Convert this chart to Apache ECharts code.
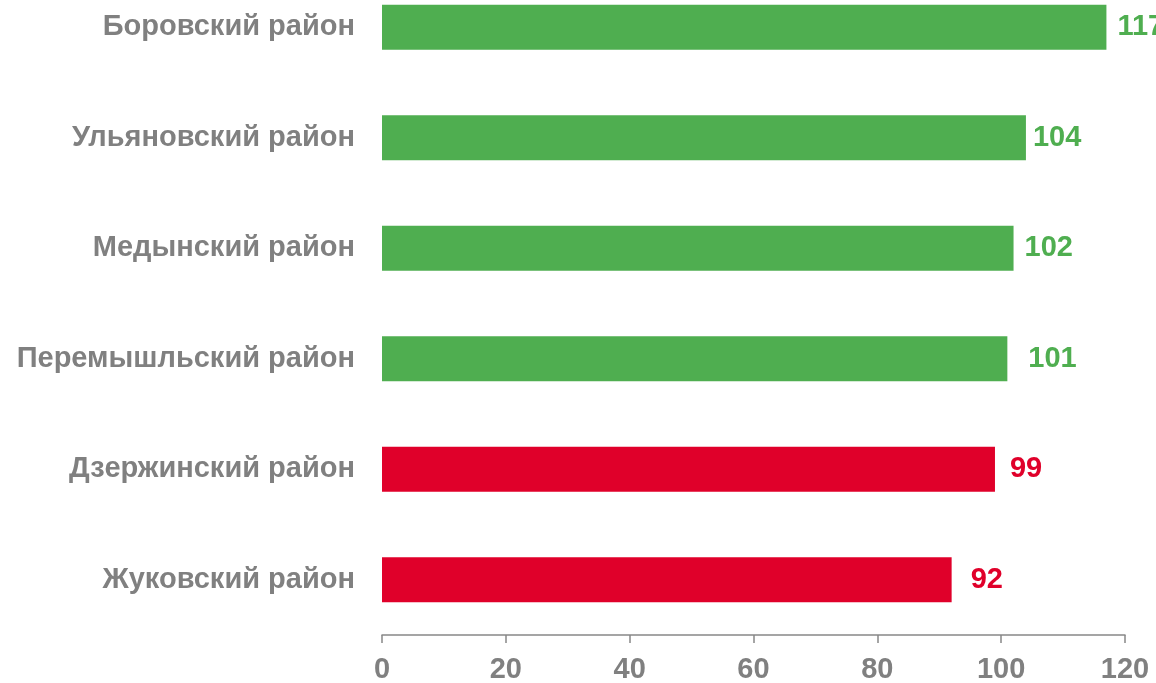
<!DOCTYPE html>
<html>
<head>
<meta charset="utf-8">
<script src="https://cdn.jsdelivr.net/npm/echarts@6/dist/echarts.min.js"></script>
<style>
html,body{margin:0;padding:0;background:#fff;}
#chart{width:1156px;height:683px;}
</style>
</head>
<body>
<div id="chart"></div>
<script>
// Data (top to bottom as displayed)
const categories = ["Боровский район","Ульяновский район","Медынский район","Перемышльский район","Дзержинский район","Жуковский район"];
const values = [117, 104, 102, 101, 99, 92];
const xTicks = [0, 20, 40, 60, 80, 100, 120];

const GREEN = '#4FAE50';
const RED = '#E0002A';
const GRAY = '#808080';
const FONT = '"Liberation Sans", Arial, sans-serif';
const labelGaps = [11, 7, 11, 21, 15, 19];

const chart = echarts.init(document.getElementById('chart'));
const seriesData = values.map((v, i) => {
  const c = v >= 100 ? GREEN : RED;
  return {
    value: v,
    itemStyle: { color: c },
    label: { color: c, distance: labelGaps[i] }
  };
});

chart.setOption({
  animation: false,
  grid: { left: 382, right: 31, top: -28, bottom: 48, containLabel: false, outerBoundsMode: 'none' },
  xAxis: {
    type: 'value',
    min: xTicks[0],
    max: xTicks[xTicks.length - 1],
    interval: xTicks[1] - xTicks[0],
    axisLine: { show: true, lineStyle: { color: '#888888', width: 1.5 } },
    axisTick: { show: true, length: 8, lineStyle: { color: '#888888', width: 1.5 } },
    splitLine: { show: false },
    axisLabel: { color: GRAY, fontSize: 29, fontWeight: 'bold', fontFamily: FONT, margin: 20 }
  },
  yAxis: {
    type: 'category',
    data: categories,
    inverse: true,
    axisLine: { show: false },
    axisTick: { show: false },
    axisLabel: { color: GRAY, fontSize: 29, fontWeight: 'bold', fontFamily: FONT, margin: 27 }
  },
  series: [{
    type: 'bar',
    data: seriesData,
    barWidth: 45,
    label: {
      show: true,
      position: 'right',
      fontSize: 29,
      fontWeight: 'bold',
      fontFamily: FONT
    }
  }]
});
</script>
</body>
</html>
